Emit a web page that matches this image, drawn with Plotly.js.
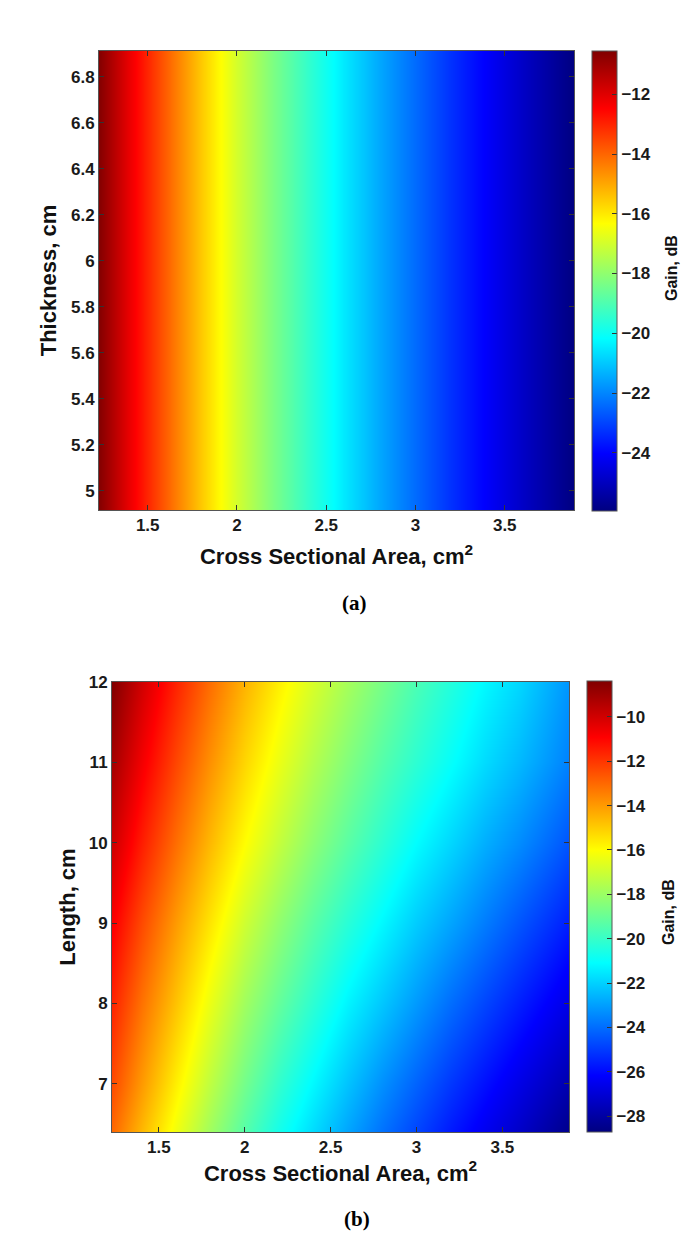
<!DOCTYPE html>
<html>
<head>
<meta charset="utf-8">
<script src="https://cdn.plot.ly/plotly-3.0.1.min.js"></script>
<style>html,body{margin:0;padding:0;background:#fff;}#chart{width:686px;height:1237px;}</style>
</head>
<body>
<div id="chart"></div>
<script>
// ---- data ----
// Cross sectional area samples (cm^2), shared by both panels
const areaA = [1.227, 1.4, 1.6, 1.8, 2.0, 2.2, 2.4, 2.6, 2.8, 3.0, 3.2, 3.4, 3.6, 3.888];
// Panel (a): thickness rows (cm); gain is constant along thickness
const thicknessA = [4.916, 6.912];
const gainA = [-10.6, -12.2, -13.9, -15.5, -17.0, -18.3, -19.4, -20.5, -21.5, -22.4, -23.3, -24.1, -24.9, -25.95];

// Panel (b): length rows (cm)
const lengthB = [6.4, 7, 8, 9, 10, 11, 12];
const gainB_L6_4 = [-13.0, -14.6, -16.3, -17.9, -19.4, -20.7, -21.8, -22.9, -23.9, -24.8, -25.7, -26.5, -27.3, -28.5];
const gainB_L7   = [-12.4, -14.0, -15.7, -17.3, -18.8, -20.1, -21.2, -22.3, -23.3, -24.2, -25.1, -25.9, -26.7, -27.8];
const gainB_L8   = [-11.6, -13.2, -14.8, -16.4, -17.9, -19.1, -20.2, -21.3, -22.2, -23.1, -24.0, -24.8, -25.6, -26.7];
const gainB_L9   = [-10.8, -12.4, -14.0, -15.5, -17.0, -18.2, -19.3, -20.3, -21.2, -22.1, -22.9, -23.7, -24.5, -25.6];
const gainB_L10  = [-9.9, -11.5, -13.1, -14.6, -16.0, -17.2, -18.3, -19.3, -20.2, -21.1, -21.9, -22.7, -23.4, -24.5];
const gainB_L11  = [-9.1, -10.7, -12.3, -13.8, -15.2, -16.4, -17.5, -18.5, -19.4, -20.2, -21.0, -21.8, -22.5, -23.6];
const gainB_L12  = [-8.4, -10.0, -11.6, -13.1, -14.5, -15.7, -16.8, -17.8, -18.7, -19.6, -20.4, -21.2, -21.9, -23.2];

const xTitle = 'Cross Sectional Area, cm<sup>2</sup>';
const yTitleA = 'Thickness, cm';
const yTitleB = 'Length, cm';
const cbTitle = 'Gain, dB';
const captionA = '(a)';
const captionB = '(b)';

// ---- styling ----
const W = 686, H = 1237;
const jet = [[0,'rgb(0,0,128)'],[0.125,'rgb(0,0,255)'],[0.375,'rgb(0,255,255)'],
             [0.625,'rgb(255,255,0)'],[0.875,'rgb(255,0,0)'],[1,'rgb(128,0,0)']];
const fam = '"Liberation Sans", Arial, sans-serif';
const tickFont = {family: fam, size: 17, color: '#1a1a1a', weight: 'bold'};
const titleFont = {family: fam, size: 22, color: '#111', weight: 'bold'};
const cbTitleFont = {family: fam, size: 16, color: '#111', weight: 'bold'};
const capFont = {family: '"Liberation Serif", "Times New Roman", serif', size: 21, color: '#000', weight: 'bold'};
const px = v => v / W;
const py = v => 1 - v / H;

function cbar(top, bottom, left, dtick) {
  return {
    x: px(left), xanchor: 'left', xpad: 0, ypad: 0,
    y: py((top + bottom) / 2), yanchor: 'middle',
    len: bottom - top, lenmode: 'pixels',
    thickness: 25, thicknessmode: 'pixels',
    outlinecolor: '#555', outlinewidth: 1,
    ticks: 'inside', ticklen: 5, tickcolor: '#333', tickwidth: 1,
    dtick: dtick, tick0: 0,
    tickfont: tickFont
  };
}

const traceA = {
  type: 'heatmap', x: areaA, y: thicknessA, z: [gainA, gainA],
  colorscale: jet, zmin: -25.95, zmax: -10.55, zsmooth: 'best',
  xaxis: 'x', yaxis: 'y', hoverinfo: 'skip',
  colorbar: cbar(51, 511, 592, 2)
};
const traceB = {
  type: 'heatmap', x: areaA, y: lengthB,
  z: [gainB_L6_4, gainB_L7, gainB_L8, gainB_L9, gainB_L10, gainB_L11, gainB_L12],
  colorscale: jet, zmin: -28.72, zmax: -8.38, zsmooth: 'best',
  xaxis: 'x2', yaxis: 'y2', hoverinfo: 'skip',
  colorbar: cbar(681, 1132, 587, 2)
};

function ax(extra) {
  return Object.assign({
    showline: true, linecolor: '#555', linewidth: 1, mirror: 'ticks',
    ticks: 'inside', ticklen: 5, tickcolor: '#333', tickwidth: 1,
    showgrid: false, zeroline: false, tickfont: tickFont, fixedrange: true
  }, extra);
}

function note(text, x, y, font, angle) {
  return {text: text, xref: 'paper', yref: 'paper', x: px(x), y: py(y), showarrow: false,
          xanchor: 'center', yanchor: 'middle', textangle: angle || 0, font: font};
}

const layout = {
  width: W, height: H,
  margin: {l: 0, r: 0, t: 0, b: 0},
  paper_bgcolor: '#fff', plot_bgcolor: '#fff',
  showlegend: false,
  xaxis: ax({domain: [px(99), px(574)], anchor: 'y', range: [1.227, 3.888], dtick: 0.5, tick0: 0,
             title: {text: xTitle, font: titleFont, standoff: 14}}),
  yaxis: ax({domain: [py(510), py(51)], anchor: 'x', range: [4.916, 6.912], dtick: 0.2, tick0: 0,
             title: {text: yTitleA, font: titleFont, standoff: 8}}),
  xaxis2: ax({domain: [px(112), px(569)], anchor: 'y2', range: [1.227, 3.888], dtick: 0.5, tick0: 0,
              title: {text: xTitle, font: titleFont, standoff: 5}}),
  yaxis2: ax({domain: [py(1132), py(682)], anchor: 'x2', range: [6.4, 12], dtick: 1, tick0: 0,
              title: {text: yTitleB, font: titleFont, standoff: 6}}),
  annotations: [
    note(cbTitle, 671, 268, cbTitleFont, -90),
    note(cbTitle, 668, 912, cbTitleFont, -90),
    note(captionA, 354, 603, capFont),
    note(captionB, 357, 1219, capFont)
  ]
};

Plotly.newPlot('chart', [traceA, traceB], layout, {staticPlot: true, displayModeBar: false});
</script>
</body>
</html>
